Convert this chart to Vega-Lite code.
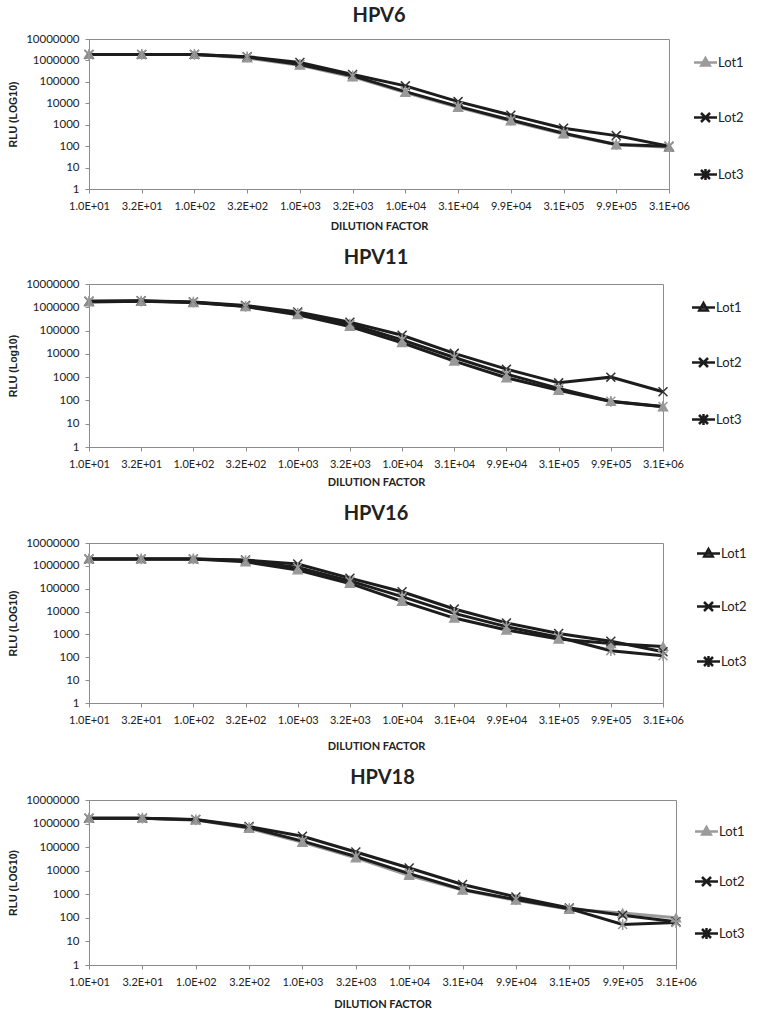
{
  "$schema": "https://vega.github.io/schema/vega-lite/v6.json",
  "padding": {"left": 8, "top": 5, "right": 5, "bottom": 5},
  "background": "white",
  "spacing": 15,
  "resolve": {"scale": {"color": "independent"}, "legend": {"color": "independent"}},
  "config": {
    "view": {"stroke": "#8c8c8c", "strokeWidth": 1},
    "axis": {"grid": false, "domainColor": "#8c8c8c", "tickColor": "#8c8c8c", "tickSize": 4, "labelFont": "Lato", "labelFontSize": 11, "labelColor": "#222", "titleColor": "#222"},
    "axisX": {"labelAngle": 0, "labelPadding": 7, "titleFont": "Lato", "titleFontWeight": "bold", "titleFontSize": 11},
    "axisY": {"labelFontSize": 11.5, "labelPadding": 6, "titleFont": "Liberation Sans", "titleFontWeight": "bold", "titleFontSize": 10.5, "titlePadding": 7},
    "title": {"font": "Lato", "fontWeight": "bold", "fontSize": 20, "color": "#222", "anchor": "middle", "baseline": "alphabetic"},
    "legend": {"title": null, "orient": "right", "rowPadding": 37, "labelFont": "Lato", "labelFontSize": 13, "labelColor": "#222", "labelOffset": 6, "symbolStrokeWidth": 2.5, "symbolSize": 100,
      "symbolLimit": 10}
  },
  "datasets": {
    "hpv6": [
      {"d":"1.0E+01","lot":"Lot1","v":1900000},{"d":"3.2E+01","lot":"Lot1","v":1900000},{"d":"1.0E+02","lot":"Lot1","v":1900000},{"d":"3.2E+02","lot":"Lot1","v":1300000},{"d":"1.0E+03","lot":"Lot1","v":600000},{"d":"3.2E+03","lot":"Lot1","v":170000},{"d":"1.0E+04","lot":"Lot1","v":32000},{"d":"3.1E+04","lot":"Lot1","v":6500},{"d":"9.9E+04","lot":"Lot1","v":1500},{"d":"3.1E+05","lot":"Lot1","v":370},{"d":"9.9E+05","lot":"Lot1","v":115},{"d":"3.1E+06","lot":"Lot1","v":88},
      {"d":"1.0E+01","lot":"Lot2","v":1900000},{"d":"3.2E+01","lot":"Lot2","v":1900000},{"d":"1.0E+02","lot":"Lot2","v":1900000},{"d":"3.2E+02","lot":"Lot2","v":1500000},{"d":"1.0E+03","lot":"Lot2","v":800000},{"d":"3.2E+03","lot":"Lot2","v":220000},{"d":"1.0E+04","lot":"Lot2","v":65000},{"d":"3.1E+04","lot":"Lot2","v":12000},{"d":"9.9E+04","lot":"Lot2","v":2800},{"d":"3.1E+05","lot":"Lot2","v":680},{"d":"9.9E+05","lot":"Lot2","v":310},{"d":"3.1E+06","lot":"Lot2","v":98},
      {"d":"1.0E+01","lot":"Lot3","v":1900000},{"d":"3.2E+01","lot":"Lot3","v":1900000},{"d":"1.0E+02","lot":"Lot3","v":1900000},{"d":"3.2E+02","lot":"Lot3","v":1450000},{"d":"1.0E+03","lot":"Lot3","v":650000},{"d":"3.2E+03","lot":"Lot3","v":190000},{"d":"1.0E+04","lot":"Lot3","v":35000},{"d":"3.1E+04","lot":"Lot3","v":7200},{"d":"9.9E+04","lot":"Lot3","v":1650},{"d":"3.1E+05","lot":"Lot3","v":400},{"d":"9.9E+05","lot":"Lot3","v":120},{"d":"3.1E+06","lot":"Lot3","v":98}
    ],
    "hpv11": [
      {"d":"1.0E+01","lot":"Lot1","v":1700000},{"d":"3.2E+01","lot":"Lot1","v":1800000},{"d":"1.0E+02","lot":"Lot1","v":1600000},{"d":"3.2E+02","lot":"Lot1","v":1070000},{"d":"1.0E+03","lot":"Lot1","v":480000},{"d":"3.2E+03","lot":"Lot1","v":150000},{"d":"1.0E+04","lot":"Lot1","v":30000},{"d":"3.1E+04","lot":"Lot1","v":4900},{"d":"9.9E+04","lot":"Lot1","v":940},{"d":"3.1E+05","lot":"Lot1","v":270},{"d":"9.9E+05","lot":"Lot1","v":90},{"d":"3.1E+06","lot":"Lot1","v":53},
      {"d":"1.0E+01","lot":"Lot2","v":1800000},{"d":"3.2E+01","lot":"Lot2","v":1900000},{"d":"1.0E+02","lot":"Lot2","v":1700000},{"d":"3.2E+02","lot":"Lot2","v":1200000},{"d":"1.0E+03","lot":"Lot2","v":630000},{"d":"3.2E+03","lot":"Lot2","v":230000},{"d":"1.0E+04","lot":"Lot2","v":63000},{"d":"3.1E+04","lot":"Lot2","v":10500},{"d":"9.9E+04","lot":"Lot2","v":2200},{"d":"3.1E+05","lot":"Lot2","v":570},{"d":"9.9E+05","lot":"Lot2","v":1000},{"d":"3.1E+06","lot":"Lot2","v":235},
      {"d":"1.0E+01","lot":"Lot3","v":1800000},{"d":"3.2E+01","lot":"Lot3","v":1850000},{"d":"1.0E+02","lot":"Lot3","v":1650000},{"d":"3.2E+02","lot":"Lot3","v":1100000},{"d":"1.0E+03","lot":"Lot3","v":550000},{"d":"3.2E+03","lot":"Lot3","v":190000},{"d":"1.0E+04","lot":"Lot3","v":40000},{"d":"3.1E+04","lot":"Lot3","v":7000},{"d":"9.9E+04","lot":"Lot3","v":1350},{"d":"3.1E+05","lot":"Lot3","v":330},{"d":"9.9E+05","lot":"Lot3","v":92},{"d":"3.1E+06","lot":"Lot3","v":55}
    ],
    "hpv16": [
      {"d":"1.0E+01","lot":"Lot1","v":2000000},{"d":"3.2E+01","lot":"Lot1","v":2000000},{"d":"1.0E+02","lot":"Lot1","v":2000000},{"d":"3.2E+02","lot":"Lot1","v":1500000},{"d":"1.0E+03","lot":"Lot1","v":660000},{"d":"3.2E+03","lot":"Lot1","v":170000},{"d":"1.0E+04","lot":"Lot1","v":28000},{"d":"3.1E+04","lot":"Lot1","v":5200},{"d":"9.9E+04","lot":"Lot1","v":1550},{"d":"3.1E+05","lot":"Lot1","v":630},{"d":"9.9E+05","lot":"Lot1","v":400},{"d":"3.1E+06","lot":"Lot1","v":300},
      {"d":"1.0E+01","lot":"Lot2","v":2000000},{"d":"3.2E+01","lot":"Lot2","v":2000000},{"d":"1.0E+02","lot":"Lot2","v":2000000},{"d":"3.2E+02","lot":"Lot2","v":1800000},{"d":"1.0E+03","lot":"Lot2","v":1200000},{"d":"3.2E+03","lot":"Lot2","v":290000},{"d":"1.0E+04","lot":"Lot2","v":74000},{"d":"3.1E+04","lot":"Lot2","v":13000},{"d":"9.9E+04","lot":"Lot2","v":3200},{"d":"3.1E+05","lot":"Lot2","v":1100},{"d":"9.9E+05","lot":"Lot2","v":500},{"d":"3.1E+06","lot":"Lot2","v":175},
      {"d":"1.0E+01","lot":"Lot3","v":2000000},{"d":"3.2E+01","lot":"Lot3","v":2000000},{"d":"1.0E+02","lot":"Lot3","v":2000000},{"d":"3.2E+02","lot":"Lot3","v":1700000},{"d":"1.0E+03","lot":"Lot3","v":850000},{"d":"3.2E+03","lot":"Lot3","v":220000},{"d":"1.0E+04","lot":"Lot3","v":45000},{"d":"3.1E+04","lot":"Lot3","v":8300},{"d":"9.9E+04","lot":"Lot3","v":2200},{"d":"3.1E+05","lot":"Lot3","v":750},{"d":"9.9E+05","lot":"Lot3","v":195},{"d":"3.1E+06","lot":"Lot3","v":117}
    ],
    "hpv18": [
      {"d":"1.0E+01","lot":"Lot1","v":1700000},{"d":"3.2E+01","lot":"Lot1","v":1700000},{"d":"1.0E+02","lot":"Lot1","v":1400000},{"d":"3.2E+02","lot":"Lot1","v":630000},{"d":"1.0E+03","lot":"Lot1","v":160000},{"d":"3.2E+03","lot":"Lot1","v":35000},{"d":"1.0E+04","lot":"Lot1","v":6300},{"d":"3.1E+04","lot":"Lot1","v":1500},{"d":"9.9E+04","lot":"Lot1","v":560},{"d":"3.1E+05","lot":"Lot1","v":230},{"d":"9.9E+05","lot":"Lot1","v":160},{"d":"3.1E+06","lot":"Lot1","v":100},
      {"d":"1.0E+01","lot":"Lot2","v":1700000},{"d":"3.2E+01","lot":"Lot2","v":1700000},{"d":"1.0E+02","lot":"Lot2","v":1500000},{"d":"3.2E+02","lot":"Lot2","v":750000},{"d":"1.0E+03","lot":"Lot2","v":290000},{"d":"3.2E+03","lot":"Lot2","v":62000},{"d":"1.0E+04","lot":"Lot2","v":13000},{"d":"3.1E+04","lot":"Lot2","v":2600},{"d":"9.9E+04","lot":"Lot2","v":770},{"d":"3.1E+05","lot":"Lot2","v":265},{"d":"9.9E+05","lot":"Lot2","v":130},{"d":"3.1E+06","lot":"Lot2","v":68},
      {"d":"1.0E+01","lot":"Lot3","v":1700000},{"d":"3.2E+01","lot":"Lot3","v":1700000},{"d":"1.0E+02","lot":"Lot3","v":1450000},{"d":"3.2E+02","lot":"Lot3","v":680000},{"d":"1.0E+03","lot":"Lot3","v":180000},{"d":"3.2E+03","lot":"Lot3","v":40000},{"d":"1.0E+04","lot":"Lot3","v":7500},{"d":"3.1E+04","lot":"Lot3","v":1600},{"d":"9.9E+04","lot":"Lot3","v":600},{"d":"3.1E+05","lot":"Lot3","v":245},{"d":"9.9E+05","lot":"Lot3","v":52},{"d":"3.1E+06","lot":"Lot3","v":63}
    ]
  },
  "vconcat": [
    {
      "title": {"text": "HPV6", "offset": 7.5},
      "width": 580, "height": 150,
      "data": {"name": "hpv6"},
      "encoding": {
        "x": {"field": "d", "type": "ordinal", "sort": ["1.0E+01","3.2E+01","1.0E+02","3.2E+02","1.0E+03","3.2E+03","1.0E+04","3.1E+04","9.9E+04","3.1E+05","9.9E+05","3.1E+06"], "scale": {"type": "point", "padding": 0}, "axis": {"title": "DILUTION FACTOR", "titlePadding": 9}},
        "y": {"field": "v", "type": "quantitative", "scale": {"type": "log", "domain": [1, 10000000], "nice": false}, "axis": {"title": "RLU (LOG10)", "values": [1,10,100,1000,10000,100000,1000000,10000000], "format": "d"}}
      },
      "layer": [
        {"mark": {"type": "line", "strokeWidth": 3},
         "encoding": {"color": {"field": "lot", "type": "nominal", "scale": {"domain": ["Lot1","Lot2","Lot3"], "range": ["#9b9b9b","#1c1c1c","#1c1c1c"]},
           "legend": {"offset": 7, "padding": 17, "encode": {"symbols": {"update": {"shape": {"signal": "datum.value === 'Lot1' ? 'M-2.3,0L2.3,0M0,-0.9L0.85,0.6L-0.85,0.6Z' : datum.value === 'Lot2' ? 'M-2.3,0L2.3,0M-0.9,-0.9L0.9,0.9M-0.9,0.9L0.9,-0.9' : 'M-2.3,0L2.3,0M-0.9,-0.9L0.9,0.9M-0.9,0.9L0.9,-0.9M0,-1.1L0,1.1'"}, "fill": {"signal": "datum.value === 'Lot1' ? '#9b9b9b' : 'transparent'"}}}}}}}},
        {"mark": {"type": "point", "size": 80, "strokeWidth": 1.5, "opacity": 1},
         "encoding": {
           "shape": {"field": "lot", "type": "nominal", "scale": {"domain": ["Lot1","Lot2","Lot3"], "range": ["triangle-up","M-1,-1L1,1M-1,1L1,-1","M-1,-1L1,1M-1,1L1,-1M0,-1.2L0,1.2"]}, "legend": null},
           "fill": {"field": "lot", "type": "nominal", "scale": {"domain": ["Lot1","Lot2","Lot3"], "range": ["#999999","transparent","transparent"]}, "legend": null},
           "stroke": {"field": "lot", "type": "nominal", "scale": {"domain": ["Lot1","Lot2","Lot3"], "range": ["#999999","#333333","#999999"]}, "legend": null}
         }}
      ]
    },
    {
      "title": {"text": "HPV11", "offset": 10.5},
      "width": 574, "height": 163,
      "data": {"name": "hpv11"},
      "encoding": {
        "x": {"field": "d", "type": "ordinal", "sort": ["1.0E+01","3.2E+01","1.0E+02","3.2E+02","1.0E+03","3.2E+03","1.0E+04","3.1E+04","9.9E+04","3.1E+05","9.9E+05","3.1E+06"], "scale": {"type": "point", "padding": 0}, "axis": {"title": "DILUTION FACTOR", "titlePadding": 7}},
        "y": {"field": "v", "type": "quantitative", "scale": {"type": "log", "domain": [1, 10000000], "nice": false}, "axis": {"title": "RLU (Log10)", "values": [1,10,100,1000,10000,100000,1000000,10000000], "format": "d"}}
      },
      "layer": [
        {"mark": {"type": "line", "strokeWidth": 3},
         "encoding": {"color": {"field": "lot", "type": "nominal", "scale": {"domain": ["Lot1","Lot2","Lot3"], "range": ["#1c1c1c","#1c1c1c","#1c1c1c"]},
           "legend": {"offset": 11, "padding": 17, "encode": {"symbols": {"update": {"shape": {"signal": "datum.value === 'Lot1' ? 'M-2.3,0L2.3,0M0,-0.9L0.85,0.6L-0.85,0.6Z' : datum.value === 'Lot2' ? 'M-2.3,0L2.3,0M-0.9,-0.9L0.9,0.9M-0.9,0.9L0.9,-0.9' : 'M-2.3,0L2.3,0M-0.9,-0.9L0.9,0.9M-0.9,0.9L0.9,-0.9M0,-1.1L0,1.1'"}, "fill": {"signal": "datum.value === 'Lot1' ? '#9b9b9b' : 'transparent'"}}}}}}}},
        {"mark": {"type": "point", "size": 80, "strokeWidth": 1.5, "opacity": 1},
         "encoding": {
           "shape": {"field": "lot", "type": "nominal", "scale": {"domain": ["Lot1","Lot2","Lot3"], "range": ["triangle-up","M-1,-1L1,1M-1,1L1,-1","M-1,-1L1,1M-1,1L1,-1M0,-1.2L0,1.2"]}, "legend": null},
           "fill": {"field": "lot", "type": "nominal", "scale": {"domain": ["Lot1","Lot2","Lot3"], "range": ["#999999","transparent","transparent"]}, "legend": null},
           "stroke": {"field": "lot", "type": "nominal", "scale": {"domain": ["Lot1","Lot2","Lot3"], "range": ["#999999","#333333","#999999"]}, "legend": null}
         }}
      ]
    },
    {
      "title": {"text": "HPV16", "offset": 13.5},
      "width": 574, "height": 160,
      "data": {"name": "hpv16"},
      "encoding": {
        "x": {"field": "d", "type": "ordinal", "sort": ["1.0E+01","3.2E+01","1.0E+02","3.2E+02","1.0E+03","3.2E+03","1.0E+04","3.1E+04","9.9E+04","3.1E+05","9.9E+05","3.1E+06"], "scale": {"type": "point", "padding": 0}, "axis": {"title": "DILUTION FACTOR", "titlePadding": 15}},
        "y": {"field": "v", "type": "quantitative", "scale": {"type": "log", "domain": [1, 10000000], "nice": false}, "axis": {"title": "RLU (LOG10)", "values": [1,10,100,1000,10000,100000,1000000,10000000], "format": "d"}}
      },
      "layer": [
        {"mark": {"type": "line", "strokeWidth": 3},
         "encoding": {"color": {"field": "lot", "type": "nominal", "scale": {"domain": ["Lot1","Lot2","Lot3"], "range": ["#1c1c1c","#1c1c1c","#1c1c1c"]},
           "legend": {"offset": 29, "padding": 4, "rowPadding": 35, "encode": {"symbols": {"update": {"shape": {"signal": "datum.value === 'Lot1' ? 'M-2.3,0L2.3,0M0,-0.9L0.85,0.6L-0.85,0.6Z' : datum.value === 'Lot2' ? 'M-2.3,0L2.3,0M-0.9,-0.9L0.9,0.9M-0.9,0.9L0.9,-0.9' : 'M-2.3,0L2.3,0M-0.9,-0.9L0.9,0.9M-0.9,0.9L0.9,-0.9M0,-1.1L0,1.1'"}, "fill": {"signal": "datum.value === 'Lot1' ? '#9b9b9b' : 'transparent'"}}}}}}}},
        {"mark": {"type": "point", "size": 80, "strokeWidth": 1.5, "opacity": 1},
         "encoding": {
           "shape": {"field": "lot", "type": "nominal", "scale": {"domain": ["Lot1","Lot2","Lot3"], "range": ["triangle-up","M-1,-1L1,1M-1,1L1,-1","M-1,-1L1,1M-1,1L1,-1M0,-1.2L0,1.2"]}, "legend": null},
           "fill": {"field": "lot", "type": "nominal", "scale": {"domain": ["Lot1","Lot2","Lot3"], "range": ["#999999","transparent","transparent"]}, "legend": null},
           "stroke": {"field": "lot", "type": "nominal", "scale": {"domain": ["Lot1","Lot2","Lot3"], "range": ["#999999","#333333","#999999"]}, "legend": null}
         }}
      ]
    },
    {
      "title": {"text": "HPV18", "offset": 6.5},
      "width": 587, "height": 165,
      "data": {"name": "hpv18"},
      "encoding": {
        "x": {"field": "d", "type": "ordinal", "sort": ["1.0E+01","3.2E+01","1.0E+02","3.2E+02","1.0E+03","3.2E+03","1.0E+04","3.1E+04","9.9E+04","3.1E+05","9.9E+05","3.1E+06"], "scale": {"type": "point", "padding": 0}, "axis": {"title": "DILUTION FACTOR", "titlePadding": 11}},
        "y": {"field": "v", "type": "quantitative", "scale": {"type": "log", "domain": [1, 10000000], "nice": false}, "axis": {"title": "RLU (LOG10)", "values": [1,10,100,1000,10000,100000,1000000,10000000], "format": "d"}}
      },
      "layer": [
        {"mark": {"type": "line", "strokeWidth": 3},
         "encoding": {"color": {"field": "lot", "type": "nominal", "scale": {"domain": ["Lot1","Lot2","Lot3"], "range": ["#9b9b9b","#1c1c1c","#1c1c1c"]},
           "legend": {"offset": -7, "padding": 25, "rowPadding": 32, "encode": {"symbols": {"update": {"shape": {"signal": "datum.value === 'Lot1' ? 'M-2.3,0L2.3,0M0,-0.9L0.85,0.6L-0.85,0.6Z' : datum.value === 'Lot2' ? 'M-2.3,0L2.3,0M-0.9,-0.9L0.9,0.9M-0.9,0.9L0.9,-0.9' : 'M-2.3,0L2.3,0M-0.9,-0.9L0.9,0.9M-0.9,0.9L0.9,-0.9M0,-1.1L0,1.1'"}, "fill": {"signal": "datum.value === 'Lot1' ? '#9b9b9b' : 'transparent'"}}}}}}}},
        {"mark": {"type": "point", "size": 80, "strokeWidth": 1.5, "opacity": 1},
         "encoding": {
           "shape": {"field": "lot", "type": "nominal", "scale": {"domain": ["Lot1","Lot2","Lot3"], "range": ["triangle-up","M-1,-1L1,1M-1,1L1,-1","M-1,-1L1,1M-1,1L1,-1M0,-1.2L0,1.2"]}, "legend": null},
           "fill": {"field": "lot", "type": "nominal", "scale": {"domain": ["Lot1","Lot2","Lot3"], "range": ["#999999","transparent","transparent"]}, "legend": null},
           "stroke": {"field": "lot", "type": "nominal", "scale": {"domain": ["Lot1","Lot2","Lot3"], "range": ["#999999","#333333","#999999"]}, "legend": null}
         }}
      ]
    }
  ]
}
